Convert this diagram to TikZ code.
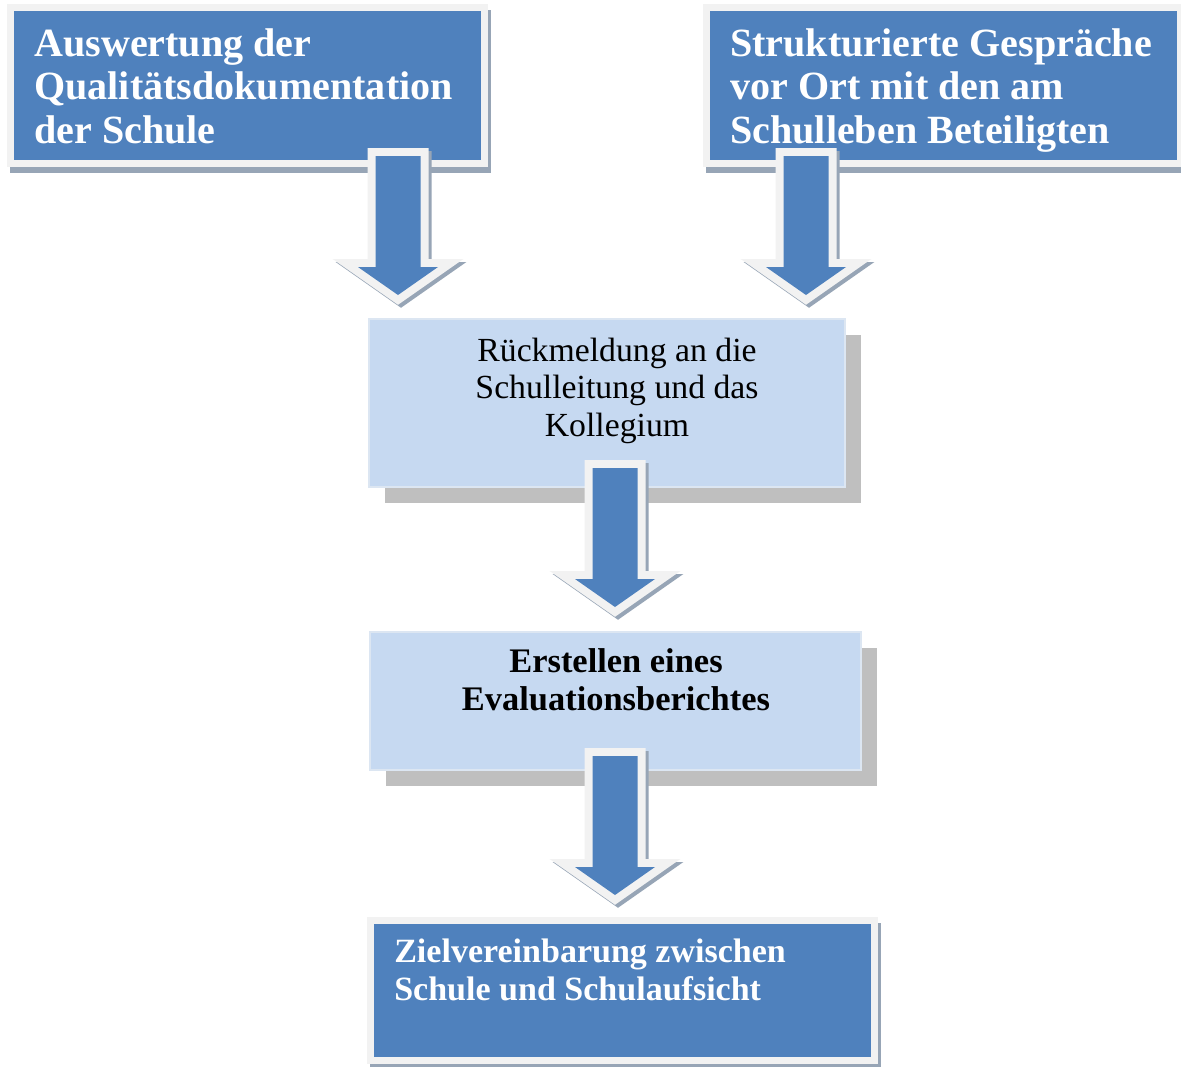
\documentclass[tikz,border=0pt]{standalone}
\usepackage{fontspec}
\setmainfont{Liberation Serif}
\usetikzlibrary{calc}
\definecolor{accentblue}{HTML}{4F81BD}
\definecolor{paleblue}{HTML}{C6D9F1}
\definecolor{paleedge}{HTML}{DCE6F2}
\definecolor{framegray}{HTML}{F2F2F2}
\definecolor{boxshadow}{HTML}{BFBFBF}
\definecolor{arrowshadow}{HTML}{97A5B6}
\tikzset{
  darktext/.style = {anchor=base west, align=left, text=white, inner sep=0pt,
    font=\bfseries\fontsize{28.5}{30.6}\selectfont},
  goaltext/.style = {darktext, font=\bfseries\fontsize{24.2}{27}\selectfont},
  paletext/.style = {anchor=base, align=center, text=black, inner sep=0pt,
    font=\fontsize{24}{26.4}\selectfont},
  paletextbold/.style = {paletext, font=\bfseries\fontsize{24.5}{26.7}\selectfont}
}
\def\rim{4mm}
\newcommand{\darkbox}[2]{%
  % #1: upper left corner of the blue area
  % #2: lower right corner of the blue area
  \fill[arrowshadow] ($(#1)+(-4,-1)$) rectangle ($(#2)+(10,13)$);
  \fill[framegray] ($(#1)+(-7,-7)$) rectangle ($(#2)+(7,7)$);
  \fill[accentblue] (#1) rectangle (#2);
}
\newcommand{\palebox}[2]{%
  % #1: upper left corner
  % #2: lower right corner
  \fill[boxshadow] ($(#1)+(16,16)$) rectangle ($(#2)+(16,16)$);
  \draw[paleedge, line width=0.5mm, fill=paleblue] (#1) rectangle (#2);
}
\newcommand{\flowarrow}[1]{%
  % #1: top centre of the shaft
  \begin{scope}[shift={(#1)}]
    % Shadow and rim
    \foreach \off/\col in {3/arrowshadow,0/framegray} {
      \draw[\col, fill=\col, line width=\rim, miter limit=10, shift={(\off,\off)}]
        (-22.5,0) -- (22.5,0) -- (22.5,111) -- (40,111) -- (0,139) -- (-40,111) -- (-22.5,111) -- cycle;
    }
    % Body
    \fill[accentblue] (-22.5,0) -- (22.5,0) -- (22.5,111) -- (40,111) -- (0,139) -- (-40,111) -- (-22.5,111) -- cycle;
  \end{scope}
}

\begin{document}
\begin{tikzpicture}[x=0.25mm, y=-0.25mm]

    \useasboundingbox[fill=white] (0,0) rectangle (1181,1066);

    % Coordinates
    \coordinate (qdA) at (14,11);      \coordinate (qdB) at (481,160);
    \coordinate (talkA) at (710,11);   \coordinate (talkB) at (1177,160);
    \coordinate (backA) at (369,319);  \coordinate (backB) at (845,487);
    \coordinate (repA) at (370,632);   \coordinate (repB) at (861,770);
    \coordinate (goalA) at (374,924);  \coordinate (goalB) at (871,1057);

    \coordinate (arrQd) at (398,156);
    \coordinate (arrTalk) at (806,156);
    \coordinate (arrBack) at (615,468);
    \coordinate (arrRep) at (615,756);

    % Boxes
    \darkbox{qdA}{qdB}
    \darkbox{talkA}{talkB}
    \palebox{backA}{backB}
    \palebox{repA}{repB}
    \darkbox{goalA}{goalB}

    % Arrows
    \flowarrow{arrQd}
    \flowarrow{arrTalk}
    \flowarrow{arrBack}
    \flowarrow{arrRep}

    % Labels (anchored at the baseline of the last line)
    \node[darktext] (qd) at (34,143) {Auswertung der\\Qualitätsdokumentation\\der Schule};
    \node[darktext] (talk) at (730,143) {Strukturierte Gespräche\\vor Ort mit den am\\Schulleben Beteiligten};
    \node[paletext] (back) at (617,436) {Rückmeldung an die\\Schulleitung und das\\Kollegium};
    \node[paletextbold] (rep) at (616,710) {Erstellen eines\\Evaluationsberichtes};
    \node[goaltext] (goal) at (394,1000) {Zielvereinbarung zwischen\\Schule und Schulaufsicht};

\end{tikzpicture}
\end{document}
